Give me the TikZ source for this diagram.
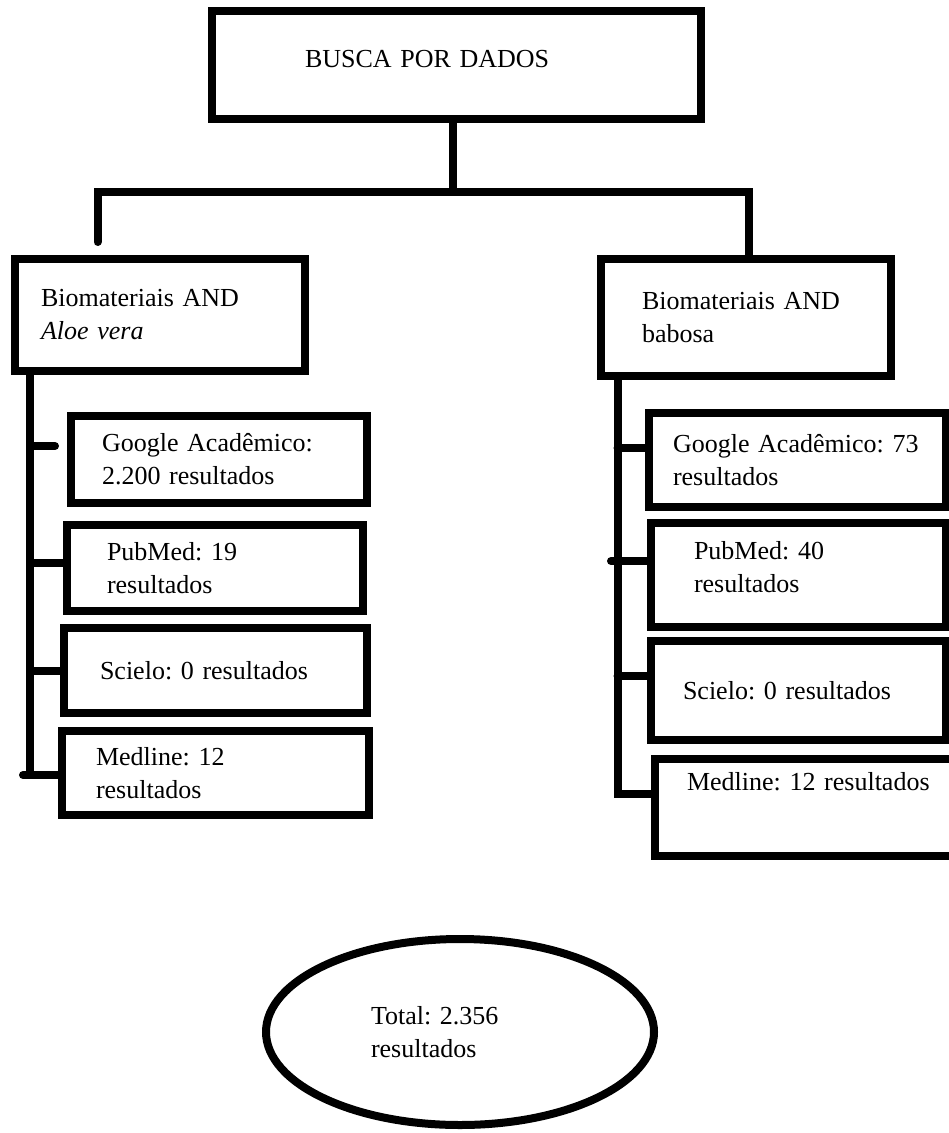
\documentclass[tikz,border=0pt]{standalone}
\usepackage{fontspec}
\setmainfont{Liberation Serif}
\usetikzlibrary{shapes.geometric}

\tikzset{
  caixa/.style={draw, rectangle, line width=4pt, align=left, inner ysep=0pt,
    font=\fontsize{13}{16.5}\selectfont\frenchspacing},
  oval/.style={draw, ellipse, line width=4pt, align=left, inner sep=0pt,
    font=\fontsize{13}{16.5}\selectfont\frenchspacing},
  liga/.style={line width=4pt, line cap=round},
}

\begin{document}
\begin{tikzpicture}[x=0.5pt, y=-0.5pt]
    \fill[white] (0,0) rectangle (948,1133);
    \useasboundingbox (0,0) rectangle (948,1133);

    %busca
    \node[caixa, minimum width=244.5pt, minimum height=54pt, inner xsep=46.5pt,
      text width=151.5pt, text depth=6pt] (busca) at (456.5,65) {BUSCA POR DADOS};

    %termos
    \node[caixa, minimum width=145pt, minimum height=56pt, inner xsep=13pt,
      text width=119pt] (bioAloe) at (160,315) {Biomateriais AND\\\textit{Aloe vera}};
    \node[caixa, minimum width=145pt, minimum height=58.5pt, inner xsep=20.5pt,
      text width=104pt] (bioBabosa) at (746,317.5) {Biomateriais AND\\babosa};

    %Aloe vera
    \node[caixa, minimum width=148pt, minimum height=43.5pt, inner xsep=15.5pt,
      text width=117pt] (gL) at (219,459.5) {Google Acadêmico:\\2.200 resultados};
    \node[caixa, minimum width=148pt, minimum height=43pt, inner xsep=20pt,
      text width=108pt] (pL) at (215,568) {PubMed: 19\\resultados};
    \node[caixa, minimum width=151.5pt, minimum height=42.5pt, inner xsep=18pt,
      text width=115.5pt] (sL) at (215.5,670.5) {Scielo: 0 resultados};
    \node[caixa, minimum width=153.5pt, minimum height=42pt, inner xsep=17pt,
      text width=119.5pt] (mL) at (215.5,773) {Medline: 12\\resultados};

    %babosa
    \node[caixa, minimum width=148.5pt, minimum height=47pt, inner xsep=12pt,
      text width=124.5pt] (gR) at (797.5,460) {\mbox{Google Acadêmico: 73}\\resultados};
    \node[caixa, minimum width=147.5pt, minimum height=52pt, inner xsep=21.5pt,
      text width=104.5pt, text depth=24.5pt] (pR) at (798.5,575) {PubMed: 40\\resultados};
    \node[caixa, minimum width=147.5pt, minimum height=49.5pt, inner xsep=16pt,
      text width=115.5pt] (sR) at (798.5,690.5) {Scielo: 0 resultados};
    \node[caixa, minimum width=162.5pt, minimum height=48.5pt, inner xsep=16pt,
      text width=130.5pt, text depth=26pt] (mR) at (817.5,807.5) {Medline: 12 resultados};

    %total
    \node[oval, minimum width=194pt, minimum height=93pt, text width=89pt]
      (total) at (460,1032) {Total: 2.356\\resultados};

    %ligacoes
    \coordinate (raiz) at (453,192);
    \coordinate (esq) at (97.5,192);
    \coordinate (dir) at (748.5,192);
    \draw[liga] (busca.south -| raiz) -- (raiz);
    \draw[liga] ([yshift=6.5pt]bioAloe.north -| esq) -- (esq) -- (dir) -- (bioBabosa.north -| dir);

    \coordinate (fimE) at (30,775);
    \coordinate (ramoGL) at (30,446);
    \coordinate (ramoPL) at (30,563);
    \coordinate (ramoSL) at (30,671);
    \draw[liga] (bioAloe.south -| fimE) -- (fimE) -- (fimE -| mL.west);
    \draw[liga] (fimE) -- ++(-7,0);
    \draw[liga, shorten >=6pt] (ramoGL) -- (ramoGL -| gL.west);
    \draw[liga] (ramoPL) -- (ramoPL -| pL.west);
    \draw[liga] (ramoSL) -- (ramoSL -| sL.west);

    \coordinate (fimD) at (617.5,794);
    \coordinate (ramoGR) at (617.5,448);
    \coordinate (ramoPR) at (611,561);
    \coordinate (ramoSR) at (617.5,676);
    \draw[liga] (bioBabosa.south -| fimD) -- (fimD) -- (fimD -| mR.west);
    \draw[liga] (ramoGR) -- (ramoGR -| gR.west);
    \draw[liga] (ramoPR) -- (ramoPR -| pR.west);
    \draw[liga] (ramoSR) -- (ramoSR -| sR.west);
\end{tikzpicture}
\end{document}
